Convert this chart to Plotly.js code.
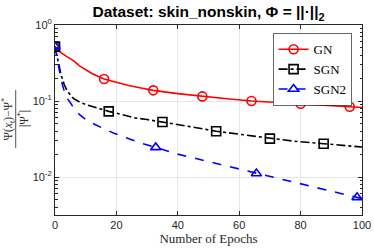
<!DOCTYPE html>
<html><head><meta charset="utf-8">
<script src="https://cdn.plot.ly/plotly-3.0.1.min.js"></script>
<style>body{margin:0;padding:0;background:#fff}#chart{width:374px;height:249px}</style>
</head><body><div id="chart"></div>
<script>
// Curves (dense readings)
const gnX  = [0,1,2,4,6,8,10,12,16,20,24,28,32,40,48,56,64,72,80,88,96,100];
const gnY  = [0.52,0.47,0.43,0.38,0.34,0.29,0.255,0.23,0.195,0.175,0.16,0.148,0.138,0.125,0.115,0.107,0.1,0.096,0.092,0.088,0.084,0.082];
const sgnX = [0,1,2,3,4,6,8,10,13,17.5,22,26,30,35,44,52.5,61,70,78,87.5,94,100];
const sgnY = [0.52,0.33,0.22,0.165,0.135,0.108,0.097,0.09,0.082,0.073,0.066,0.06,0.057,0.053,0.046,0.040,0.036,0.032,0.0295,0.0274,0.026,0.0248];
const sgn2X = [0,1,2,3,4,5,6,8,10,13,16,19,23,28,32.8,40,49,57,65.6,74,82,90,98.4,100];
const sgn2Y = [0.52,0.30,0.19,0.135,0.108,0.095,0.082,0.066,0.057,0.049,0.043,0.038,0.033,0.028,0.0245,0.020,0.0163,0.0136,0.0111,0.0092,0.0077,0.0064,0.0054,0.0052];
// Marker positions
const gnMX = [0,16,32,48,64,80,96];
const gnMY = [0.52,0.195,0.138,0.115,0.1,0.092,0.084];
const sgnMX = [0,17.5,35,52.5,70,87.5];
const sgnMY = [0.52,0.073,0.053,0.040,0.032,0.0274];
const sgn2MX = [0,32.8,65.6,98.4];
const sgn2MY = [0.52,0.0245,0.0111,0.0054];
const names = ['GN','SGN','SGN2'];
const xTicks = [0,20,40,60,80,100];
const yTicks = [0.01,0.1,1];
const yTickText = ['10<sup>-2</sup>','10<sup>-1</sup>','10<sup>0</sup>'];
const yMinorTicks = [0.004,0.005,0.006,0.007,0.008,0.009,0.02,0.03,0.04,0.05,0.06,0.07,0.08,0.09,0.2,0.3,0.4,0.5,0.6,0.7,0.8,0.9];

function gapped(a){const o=[];a.forEach((v,i)=>{if(i)o.push(null);o.push(v);});return o;}

const styles = [
  {color:'#ff0000', dash:'solid', symbol:'circle-open'},
  {color:'#000000', dash:'dashdot', symbol:'square-open'},
  {color:'#0000ff', dash:'dash', symbol:'triangle-up-open'}
];
const curves = [[gnX,gnY,gnMX,gnMY],[sgnX,sgnY,sgnMX,sgnMY],[sgn2X,sgn2Y,sgn2MX,sgn2MY]];
const data = [];
curves.forEach((c,i)=>{
  const s = styles[i];
  data.push({x:c[0], y:c[1], mode:'lines', showlegend:false, legendgroup:names[i],
    line:{color:s.color, dash:s.dash, width:1.6}, hoverinfo:'skip'});
});
curves.forEach((c,i)=>{
  const s = styles[i];
  data.push({x:gapped(c[2]), y:gapped(c[3]), mode:'lines+markers', name:names[i], legendgroup:names[i],
    connectgaps:false,
    line:{color:s.color, dash:s.dash, width:1.6},
    marker:{symbol:s.symbol, size:9, color:s.color, line:{color:s.color, width:1.6}}});
});

const axisCommon = {
  showline:true, linecolor:'#262626', linewidth:1, mirror:'allticks',
  ticks:'inside', ticklen:4, tickcolor:'#262626',
  showgrid:true, gridcolor:'#e6e6e6', gridwidth:1, zeroline:false,
  tickfont:{family:'Liberation Sans, Arial, sans-serif', size:11, color:'#262626'}
};
const serif = 'Liberation Serif, Times New Roman, serif';

const layout = {
  width:374, height:249,
  margin:{l:55, r:12, t:25, b:34},
  paper_bgcolor:'#fff', plot_bgcolor:'#fff',
  title:{text:'<b>Dataset: skin_nonskin, Φ = ||·||<sub>2</sub></b>', xref:'paper', x:0.5, xanchor:'center',
    y:1-12/249, yanchor:'middle', font:{family:'Liberation Sans, Arial, sans-serif', size:15.5, color:'#000'}},
  xaxis:Object.assign({}, axisCommon, {range:[0,100], tickvals:xTicks, ticktext:xTicks.map(String),
    title:{text:'Number of Epochs', standoff:2, font:{family:serif, size:13, color:'#262626'}}}),
  yaxis:Object.assign({}, axisCommon, {type:'log', range:[-2.5,0], tickvals:yTicks, ticktext:yTickText,
    minor:{tickvals:yMinorTicks, ticks:'inside', ticklen:2.5, tickcolor:'#262626', showgrid:false}}),
  legend:{x:0.967, xanchor:'right', y:0.955, yanchor:'top', bgcolor:'#fff', bordercolor:'#262626', borderwidth:0.7,
    font:{family:serif, size:13, color:'#000'}, itemwidth:30, tracegroupgap:0},
  showlegend:true,
  annotations:[
    {text:'Ψ(<i>x</i><sub>t</sub>)−Ψ<sup>*</sup>', textangle:-90, xref:'paper', yref:'paper', x:-0.152, y:0.505,
      xanchor:'center', yanchor:'middle', showarrow:false, font:{family:serif, size:11.5, color:'#262626'}},
    {text:'|Ψ<sup>*</sup>|', textangle:-90, xref:'paper', yref:'paper', x:-0.104, y:0.505,
      xanchor:'center', yanchor:'middle', showarrow:false, font:{family:serif, size:11.5, color:'#262626'}}
  ],
  shapes:[
    {type:'line', xref:'paper', yref:'paper', x0:-0.128, x1:-0.128, y0:0.353, y1:0.658, line:{color:'#262626', width:0.8}}
  ]
};
Plotly.newPlot('chart', data, layout, {staticPlot:true, displayModeBar:false});
</script></body></html>
